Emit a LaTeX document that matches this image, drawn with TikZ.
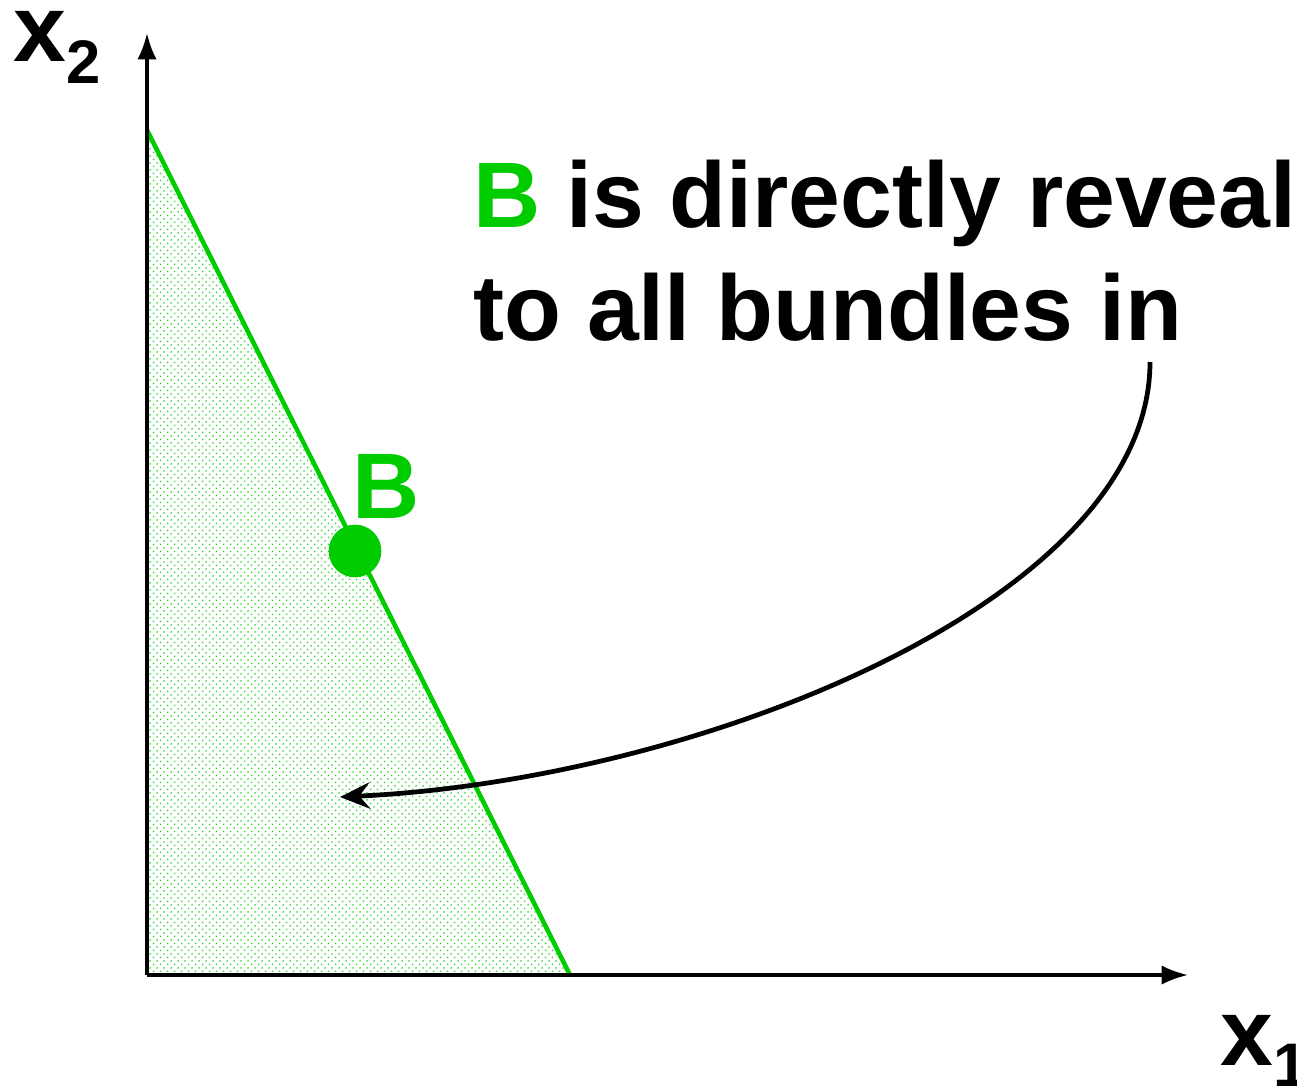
\documentclass[tikz,border=0pt]{standalone}
\usepackage{fontspec}
\setmainfont{Liberation Sans}
\usepackage{tikz}
\usetikzlibrary{arrows.meta,patterns}
\definecolor{bundlegreen}{RGB}{0,204,0}
\pgfdeclarepatternformonly{budgetdots}{\pgfqpoint{-1pt}{-1pt}}{\pgfqpoint{3.2pt}{3.2pt}}{\pgfqpoint{4.2pt}{4.2pt}}{
  \pgfpathcircle{\pgfqpoint{0pt}{0pt}}{0.6pt}
  \pgfpathcircle{\pgfqpoint{2.1pt}{2.1pt}}{0.6pt}
  \pgfusepath{fill}
}
\newcommand{\bigfont}{\fontsize{53}{60}\selectfont\bfseries}
\newcommand{\subfont}{\fontsize{35}{40}\selectfont\bfseries}

\begin{document}
\begin{tikzpicture}[x=0.02cm, y=-0.02cm, >=Latex]
  \useasboundingbox (0,0) rectangle (1297,1088);
  % budget set
  \coordinate (top) at (147,130);
  \coordinate (foot) at (570,975);
  \coordinate (origin) at (147,975);
  \fill[pattern=budgetdots, pattern color=bundlegreen!80] (top) -- (foot) -- (origin) -- cycle;
  \draw[bundlegreen, line width=2.6pt] (top) -- (foot);
  % axes
  \coordinate (ytip) at (147,33);
  \coordinate (xtip) at (1188,975);
  \draw[line width=1.9pt, -{Latex[length=15pt,width=11pt]}] (origin) -- (ytip);
  \draw[line width=1.9pt, -{Latex[length=15pt,width=11pt]}] (origin) -- (xtip);
  \node[anchor=base west, inner sep=0pt] (xtwo) at (13,62) {\fontsize{54}{60}\selectfont\bfseries x\raisebox{-12pt}{\subfont 2}};
  \node[anchor=base west, inner sep=0pt] (xone) at (1220,1065) {\fontsize{54}{60}\selectfont\bfseries x\raisebox{-12pt}{\subfont 1}};
  % bundle B
  \node[circle, fill=bundlegreen, minimum size=30pt, inner sep=0pt] (B) at (355,551) {};
  \node[anchor=base west, inner sep=0pt, text=bundlegreen] (Blabel) at (352,518) {\bigfont B};
  % comment
  \node[anchor=base west, inner sep=0pt] (lineone) at (473,227) {\bigfont\textcolor{bundlegreen}{B} is directly reveal};
  \node[anchor=base west, inner sep=0pt] (linetwo) at (473,340) {\bigfont to all bundles in};
  \coordinate (start) at (1150,362);
  \coordinate (target) at (340,797);
  \draw[line width=2.7pt, -{Stealth[length=17pt,width=15pt,inset=6pt]}] (start) .. controls (1150,600) and (700,780) .. (target);
\end{tikzpicture}
\end{document}
